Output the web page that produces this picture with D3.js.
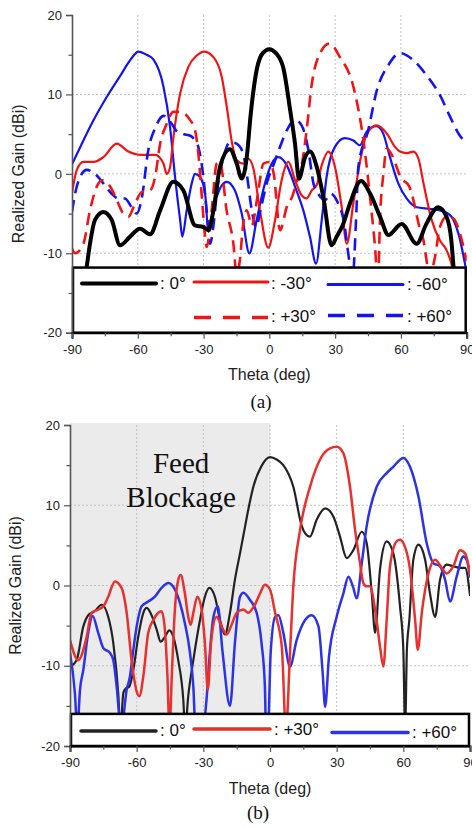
<!DOCTYPE html>
<html>
<head>
<meta charset="utf-8">
<script src="https://cdn.jsdelivr.net/npm/d3@7"></script>
<style>
  html, body { margin: 0; padding: 0; background: #fff; }
  svg { display: block; }
</style>
</head>
<body>
<script>
// ---------------- DATA ----------------
const thetaTicks = [-90, -60, -30, 0, 30, 60, 90];
const thetaMinorTicks = [-75, -45, -15, 15, 45, 75];
const gainTicks = [-20, -10, 0, 10, 20];
const gainMinorTicks = [-15, -5, 5, 15];
const gridTheta = [-60, -30, 0, 30, 60];
const gridGain = [-10, 0, 10];

// Panel (a)
const a0Theta = [-90, -85.5, -83.3, -81.8, -79.5, -75.7, -71.9, -68.1, -63.5, -59, -54.4, -49.8, -43.8, -39.2, -33.9, -30.1, -27.8, -25.5, -22.5, -18, -14.9, -12.6, -10.3, -8.5, -5.7, -3, 0, 3, 6.4, 9.5, 11.7, 13.5, 16.3, 18.5, 21.6, 24.6, 28.4, 30.7, 33.7, 36.8, 41.8, 46, 50.5, 54.3, 60.3, 67.2, 71.6, 77, 80.8, 83, 84, 85.5, 90];
const a0Gain = [-25, -16, -11.7, -8.8, -5.8, -4.8, -5.8, -9.0, -7.9, -6.9, -7.6, -4.6, -1.0, -2.1, -6.5, -6.7, -7.1, -4.6, 0.9, 3.1, 1.3, -0.6, 2.1, 7.5, 13.2, 15.2, 15.7, 15.2, 13.3, 8.0, 3.8, -0.6, 2.1, 2.8, 0.9, -2.9, -9.0, -7.9, -6.3, -3.7, -0.9, -2.5, -5.4, -7.7, -6.3, -8.8, -6.3, -4.2, -5.4, -8.4, -11.7, -16, -25];

const aM30Theta = [-90, -87.8, -84.8, -80.2, -75.7, -69.6, -64.3, -59, -52.1, -48.3, -46.8, -45.3, -43.8, -40.7, -36.9, -33.1, -29.8, -25.5, -21.7, -19.4, -17.1, -14.9, -11.9, -9.6, -7.3, -4.3, -0.5, 2.6, 5.6, 8.7, 11.7, 14.7, 17, 19.3, 21.6, 23.9, 26.9, 29.9, 33, 35.3, 38.3, 41.3, 44.4, 48.9, 53.5, 57.3, 59.6, 62.6, 65.7, 68, 70.3, 74, 77.8, 80.8, 83, 85, 88, 90];
const aM30Gain = [-2.4, 0.5, 1.5, 1.5, 2.1, 3.8, 2.8, 2.4, 2.4, 1.3, 0, 0.8, 4.5, 10.1, 13.5, 14.9, 15.4, 14.7, 12.2, 8.4, 4.0, 1.7, 1.3, 1.9, 0.7, -4.6, -9.3, -5.8, -0.8, 1.5, -0.8, -2.7, -3.1, -2.1, -1.4, 1.1, 2.8, 0.9, -4.2, -8.8, -3.7, 1.5, 5.0, 6.1, 5.1, 3.4, 2.8, 2.6, 2.8, 1.9, -1.2, -5.8, -8.4, -9.6, -11.3, -14, -20, -22];

const aM60Theta = [-90, -86, -81.8, -74.1, -68.1, -63, -59.7, -56, -52.9, -48.3, -45.3, -43, -40.7, -39.7, -37.7, -35.4, -33.9, -31.6, -29.3, -27.8, -26, -24, -19.5, -15.7, -12.6, -9.1, -5.8, -2, 1.1, 4.1, 7.9, 11.7, 15.5, 18.5, 21.3, 23.9, 26.1, 29.9, 34.5, 38.3, 41.3, 44.4, 48.9, 51.9, 55, 58.8, 62.6, 67.2, 73.2, 77.8, 82.4, 86.2, 89.2, 90];
const aM60Gain = [1.2, 3.5, 5.9, 9.7, 12.3, 14.5, 15.4, 15.0, 14.4, 11.0, 5.9, -0.4, -5.8, -7.9, -4.6, -1.2, 0, -0.4, -2.5, -7.3, -5, -2.9, -1.0, -2.1, -5.0, -10.0, -5.8, -1.2, 1.3, 2.1, 1.1, -1.6, -4.6, -7.9, -11.3, -5.8, -0.4, 3.4, 4.5, 4.2, 3.6, 5.3, 6.0, 5.1, 2.1, -1.2, -3.1, -4.2, -4.4, -4.6, -5.2, -7.5, -11.3, -12.5];

const aP30Theta = [-90, -88.6, -84.8, -81.8, -78.7, -76.4, -72.6, -69.6, -66.6, -64.3, -61.2, -58.2, -54.4, -52.1, -49.8, -46.8, -43.8, -40.7, -36.2, -33.9, -32.4, -30.9, -29.3, -28.6, -26.3, -24, -22.5, -19.5, -16.4, -15, -13.5, -12, -10.3, -8, -5.5, -2.7, 0, 2, 4.9, 7.9, 10.5, 13, 15, 17, 19.3, 22, 27.4, 32.2, 38.3, 42.9, 46.7, 48.2, 49.5, 50.5, 52, 53.5, 56, 60, 63.8, 65.7, 68.4, 70.3, 71.7, 73, 75.5, 77.8, 80.8, 83.9, 86.9, 89.2, 90];
const aP30Gain = [-9.4, -10, -8.8, -4.6, -1.6, -0.8, -1.6, -3.3, -5.0, -5.4, -3.7, -2.3, -2.1, -0.4, 3.8, 6.3, 7.8, 7.8, 6.8, 5.5, 2.6, -2.5, -7.9, -9.2, -4.6, 1.3, 1.5, -4.6, -8.8, -12.5, -11, -6.5, -4.6, -6.5, -3, 1.3, 1.5, 0, -7.1, -4.2, -2.8, -0.5, 1.5, 5.5, 11.2, 14.5, 16.4, 14.7, 11.0, 4.2, -5, -9.2, -14, -5.4, 0, 3.2, 2.3, -0.5, -1.6, -3.3, -6.7, -8.4, -10.9, -13, -10.5, -6.7, -5.4, -5.6, -7.5, -10, -11];

const aP60Theta = [-90, -88.6, -86.3, -83.3, -79.5, -75.7, -71.9, -68.9, -65.9, -62.8, -60.5, -58.2, -55.2, -52, -48.3, -45, -42, -39, -36, -33.9, -32.4, -30.1, -28.6, -27, -25.5, -24, -21, -17.9, -15, -12, -10.3, -8, -6, -4, -1, 2, 5, 8, 11.7, 14.7, 17.8, 20.1, 22.5, 25.4, 28, 31, 34, 36.5, 38, 39.5, 40.6, 45.1, 49, 54.3, 59.6, 65.7, 71.7, 77.8, 82.4, 86.2, 90];
const aP60Gain = [-4.8, -2.5, -0.4, 0.5, 0, -1.2, -2.5, -3.1, -3.1, -4.2, -5, -3.1, 3.0, 5.8, 7.3, 6.5, 5.3, 5.0, 4.8, 4.2, 3.4, -0.4, -4.6, -8.8, -6.5, -2.5, 2.0, 4.0, 3.8, 2.6, 0, -4.6, -6.7, -4.5, -1, 1.2, 3.5, 5.5, 6.8, 6.1, 3.0, -1.2, -2.6, -3.3, -2.5, -3.5, -6, -11, -13, -6, 0.9, 5.5, 10.5, 13.7, 15.2, 14.3, 12.4, 9.9, 7.2, 5.1, 3.8];

// Panel (b)
const b0Theta = [-90, -87, -84, -81.8, -78.8, -75.8, -72.8, -70.5, -68.3, -67.3, -66, -64.8, -63.3, -61.5, -59.3, -57, -55.5, -53.3, -51, -49.2, -47.3, -45.3, -43.5, -41.3, -39, -38.2, -36.8, -34.5, -31.5, -29.3, -27.3, -24.8, -22.5, -20.3, -18, -15.8, -13.5, -12, -9, -7.5, -4, 0, 3, 6, 10.5, 14.3, 15.8, 18, 21, 24.8, 28.5, 31.5, 34.5, 37.5, 41.3, 43.5, 45.8, 47.3, 49.5, 52.5, 55.5, 58.5, 60, 60.8, 61.6, 62.7, 64.5, 66.8, 69.8, 72, 74.3, 76.5, 79.5, 82.5, 85.5, 87.8, 90];
const b0Gain = [-10.1, -9.3, -5.1, -3.7, -3.2, -2.4, -3.9, -7.2, -13.4, -18, -13.4, -12.8, -12.6, -10.5, -6.4, -3.4, -2.8, -3.7, -5.5, -7.0, -6.4, -5.6, -6.4, -9.3, -14.3, -18, -13.8, -9.3, -4.3, -1.4, -0.3, -1.4, -4.3, -6.1, -3.4, 0.7, 4.0, 6.2, 10.5, 12.3, 14.8, 16.0, 15.7, 15.0, 12.3, 7.4, 6.5, 6.1, 8.2, 9.6, 8.6, 6.1, 3.4, 4.4, 6.7, 5.3, -1, -5.9, 2, 5.5, 4.0, -2.6, -8, -18, -8, -4.3, 3.2, 5.1, 3.2, -1, -3.9, 0.7, 2.6, 2.4, 2.2, 2.2, -1.2];

const bP30Theta = [-90, -86.3, -82.5, -80.3, -77.3, -75, -72.8, -69.8, -66.8, -64.5, -62.3, -60, -58.8, -57, -54.8, -52.5, -50.3, -48.8, -47.3, -46.2, -45.2, -44.2, -42.8, -41.3, -40.2, -38.3, -36.8, -35.7, -34.5, -32.7, -30.8, -29.2, -28, -26.5, -24, -21.8, -19.5, -17.3, -15, -12, -9.8, -6.8, -4.5, -2.3, 0, 2.3, 5.3, 7.2, 9, 10.5, 13.5, 18, 23.3, 27, 30, 33, 36, 38.3, 40.5, 42, 43.5, 45, 47.3, 49.5, 51, 52.5, 54, 57, 58.5, 60, 63, 65.3, 66.5, 68.3, 71.3, 74.3, 77.3, 79.5, 82.5, 85.5, 87.8, 90];
const bP30Gain = [-6.8, -9.3, -6.4, -3.4, -3.0, -2.6, -1.4, 0.5, -0.3, -3.4, -9.3, -13.2, -13.8, -11.3, -5.9, -4.3, -3.4, -3.2, -5.5, -11, -18, -11.3, -3, 0.7, 1.3, -1, -3.9, -4.9, -3.4, -1.4, -3, -7.6, -13, -7, -3.9, -5.1, -6.1, -4.9, -3.4, -3.0, -3.4, -2.4, -1, 0.1, -0.5, -3.4, -7.6, -18, -8.4, -0.1, 6.9, 12.3, 16.1, 17.1, 17.3, 16.5, 12.3, 6.9, 2.8, 0.3, -0.1, -0.1, -3, -7.6, -10.1, -4.3, 2.4, 5.5, 5.7, 5.3, 2, -4.3, -8.0, -3.4, 1.5, 3.2, 2.2, 1.5, 2.4, 4.4, 4.0, 1.5];

const bP60Theta = [-90, -87.8, -86.7, -85.5, -84, -81.8, -79.8, -77.3, -75, -72, -70.5, -69, -67, -64.5, -63, -61.5, -60, -57.8, -54.8, -51.8, -48.8, -45.8, -42.8, -40.5, -38.3, -36, -34.5, -33.5, -30.5, -28.5, -27.5, -25.5, -23.5, -21.3, -18, -15.8, -13.5, -12, -9, -6, -3.8, -2.3, -1.8, -0.9, 0.3, 2.3, 3.8, 6, 9, 12, 15.8, 18.8, 21.8, 23.7, 24.8, 26.5, 30, 33, 35.3, 37.5, 39, 41.3, 43.5, 48, 52.5, 55.5, 60, 63, 66.8, 70.5, 73.5, 76.5, 78.8, 81, 84, 87, 88.5, 90];
const bP60Gain = [-8.4, -13.4, -18, -13, -10.5, -5.9, -3.8, -5.9, -7.8, -8.4, -9.3, -12.6, -18, -13, -11.3, -8.0, -5.1, -2.6, -2.0, -1.4, -0.3, 0.3, -0.5, -2.2, -4.7, -8.4, -12.6, -18, -18, -14, -10, -4, -2.6, -8.4, -15, -7.2, -1.4, -0.9, -1.8, -3.4, -7.2, -12.6, -18, -18, -8.4, -3.9, -3.7, -5.9, -10.1, -6.8, -4.3, -3.7, -5.1, -10.9, -15.1, -9, -3.9, -1, 1.1, -0.3, -1.6, 2.8, 7.4, 12.3, 14.0, 14.8, 15.9, 14.8, 11.1, 5.3, 2.8, 2.4, 0.7, -2.0, 1.1, 3.6, 3.2, 1.1];

const legendLabelsA = [": 0°", ": -30°", ": -60°", ": +30°", ": +60°"];
const legendLabelsB = [": 0°", ": +30°", ": +60°"];
const shadeRange = [-90, 0];
const shadeLabel = ["Feed", "Blockage"];

// ---------------- DRAW ----------------
const W = 472, H = 827;
const svg = d3.select("body").append("svg").attr("width", W).attr("height", H);
const SANS = "'Liberation Sans', Arial, Helvetica, sans-serif";
const SERIF = "'Liberation Serif', 'Times New Roman', serif";

function zip(t, g) { return t.map((d, i) => ({ t: d, g: g[i] })); }

function drawPanel(o) {
  const x = d3.scaleLinear().domain([-90, 90]).range([o.x0, o.x1]);
  const y = d3.scaleLinear().domain([-20, 20]).range([o.y0, o.y1]);
  const g = svg.append("g");

  if (o.shade) {
    g.append("rect")
      .attr("x", x(shadeRange[0])).attr("y", y(20) - 2)
      .attr("width", x(shadeRange[1]) - x(shadeRange[0]))
      .attr("height", y(-20) - y(20) + 2)
      .attr("fill", "#ebebeb");
  }

  // grid
  g.selectAll(".gx").data(gridTheta).join("line")
    .attr("x1", d => x(d)).attr("x2", d => x(d))
    .attr("y1", y(20)).attr("y2", y(-20))
    .attr("stroke", "#c4c4c4").attr("stroke-width", 1).attr("stroke-dasharray", "2,2");
  g.selectAll(".gy").data(gridGain).join("line")
    .attr("x1", x(-90)).attr("x2", x(90))
    .attr("y1", d => y(d)).attr("y2", d => y(d))
    .attr("stroke", "#c4c4c4").attr("stroke-width", 1).attr("stroke-dasharray", "2,2");

  if (o.shade) {
    g.append("text").attr("x", x(-40)).attr("y", o.shadeY[0])
      .attr("text-anchor", "middle").attr("font-family", SERIF).attr("font-size", 29)
      .attr("fill", "#111").text(shadeLabel[0]);
    g.append("text").attr("x", x(-40)).attr("y", o.shadeY[1])
      .attr("text-anchor", "middle").attr("font-family", SERIF).attr("font-size", 29)
      .attr("fill", "#111").text(shadeLabel[1]);
  }

  // clip
  const cid = "clip" + o.id;
  svg.append("clipPath").attr("id", cid).append("rect")
    .attr("x", x(-90)).attr("y", y(20) - 3)
    .attr("width", x(90) - x(-90)).attr("height", y(-20) - y(20) + 3);

  const line = d3.line().x(d => x(d.t)).y(d => y(d.g)).curve(d3.curveMonotoneX);
  const lg = g.append("g").attr("clip-path", `url(#${cid})`);
  o.series.forEach(s => {
    lg.append("path").datum(zip(s.t, s.g))
      .attr("d", line).attr("fill", "none")
      .attr("stroke", s.color).attr("stroke-width", s.w)
      .attr("stroke-dasharray", s.dash || null)
      .attr("stroke-linejoin", "round").attr("stroke-linecap", s.dash ? "butt" : "round");
  });

  // legend box
  g.append("rect")
    .attr("x", x(-90) + 1).attr("y", y(o.legendTop))
    .attr("width", x(90) - x(-90) - 2).attr("height", y(-20) - y(o.legendTop))
    .attr("fill", "#fff").attr("stroke", "#000").attr("stroke-width", 2.5);

  o.legend.forEach(it => {
    g.append("line").attr("x1", it.lx1).attr("x2", it.lx2)
      .attr("y1", it.ly).attr("y2", it.ly)
      .attr("stroke", it.color).attr("stroke-width", it.w)
      .attr("stroke-dasharray", it.dash || null)
      .attr("stroke-linecap", it.dash ? "butt" : "round");
    g.append("text").attr("x", it.tx).attr("y", it.ty)
      .attr("font-family", SANS).attr("font-size", 17).attr("fill", "#111")
      .text(it.label);
  });

  // axes
  const axL = g.append("g").attr("transform", `translate(${x(-90)},0)`)
    .call(d3.axisLeft(y).tickValues(gainTicks).tickSize(6).tickPadding(4).tickFormat(d => String(d)));
  g.append("g").attr("transform", `translate(${x(-90)},0)`)
    .call(d3.axisLeft(y).tickValues(gainMinorTicks).tickSize(3.5).tickFormat(""))
    .call(s => s.select(".domain").remove());
  const axB = g.append("g").attr("transform", `translate(0,${y(-20)})`)
    .call(d3.axisBottom(x).tickValues(thetaTicks).tickSize(6).tickPadding(6).tickFormat(d => String(d)));
  g.append("g").attr("transform", `translate(0,${y(-20)})`)
    .call(d3.axisBottom(x).tickValues(thetaMinorTicks).tickSize(3.5).tickFormat(""))
    .call(s => s.select(".domain").remove());
  g.selectAll(".domain").attr("stroke", "#555").attr("stroke-width", 1.6);
  g.selectAll(".tick line").attr("stroke", "#555").attr("stroke-width", 1.2);
  g.selectAll(".tick text").attr("font-family", SANS).attr("font-size", 13).attr("fill", "#222");
  axB.select(".domain").attr("stroke", "#000").attr("stroke-width", 2);

  // titles
  g.append("text")
    .attr("transform", `translate(${o.ytX},${(y(20) + y(-20)) / 2}) rotate(-90)`)
    .attr("text-anchor", "middle").attr("dy", "0.35em")
    .attr("font-family", SANS).attr("font-size", 16).attr("fill", "#222")
    .text("Realized Gain (dBi)");
  g.append("text").attr("x", x(0)).attr("y", o.xtY)
    .attr("text-anchor", "middle")
    .attr("font-family", SANS).attr("font-size", 16).attr("fill", "#222")
    .text("Theta (deg)");
  g.append("text").attr("x", o.capX).attr("y", o.capY)
    .attr("text-anchor", "middle")
    .attr("font-family", SERIF).attr("font-size", 19).attr("fill", "#111")
    .text(o.caption);
}

const RED = "#f21414", BLUE = "#1414f0";
drawPanel({
  id: "a", x0: 72, x1: 466.7, y0: 332.7, y1: 15,
  legendTop: -11.8, ytX: 18, xtY: 380, capX: 261, capY: 408, caption: "(a)",
  series: [
    { t: aM60Theta, g: aM60Gain, color: BLUE, w: 2.2 },
    { t: aM30Theta, g: aM30Gain, color: RED, w: 2.2 },
    { t: aP60Theta, g: aP60Gain, color: BLUE, w: 2.6, dash: "12,7" },
    { t: aP30Theta, g: aP30Gain, color: RED, w: 2.6, dash: "12,7" },
    { t: a0Theta, g: a0Gain, color: "#000", w: 4 }
  ],
  legend: [
    { lx1: 82, lx2: 156, ly: 283.5, color: "#000", w: 4, tx: 160, ty: 289, label: legendLabelsA[0] },
    { lx1: 194, lx2: 268, ly: 282, color: RED, w: 3, tx: 271, ty: 289, label: legendLabelsA[1] },
    { lx1: 328, lx2: 403, ly: 284.5, color: BLUE, w: 3, tx: 407, ty: 290, label: legendLabelsA[2] },
    { lx1: 194, lx2: 268, ly: 317.5, color: RED, w: 3.5, dash: "17,12", tx: 271, ty: 322, label: legendLabelsA[3] },
    { lx1: 328, lx2: 403, ly: 315.5, color: BLUE, w: 3.5, dash: "17,12", tx: 407, ty: 322, label: legendLabelsA[4] }
  ]
});

const RED_B = "#e8302e", BLUE_B = "#2c33e6";
drawPanel({
  id: "b", x0: 70, x1: 470, y0: 746, y1: 425,
  legendTop: -16, ytX: 15, xtY: 794, capX: 258, capY: 819, caption: "(b)",
  shade: true, shadeY: [472.5, 507],
  series: [
    { t: b0Theta, g: b0Gain, color: "#222", w: 2.2 },
    { t: bP60Theta, g: bP60Gain, color: BLUE_B, w: 2.5 },
    { t: bP30Theta, g: bP30Gain, color: RED_B, w: 2.5 }
  ],
  legend: [
    { lx1: 81, lx2: 156, ly: 731, color: "#222", w: 3.5, tx: 160, ty: 736, label: legendLabelsB[0] },
    { lx1: 194, lx2: 270, ly: 729, color: RED_B, w: 3.5, tx: 274, ty: 735, label: legendLabelsB[1] },
    { lx1: 332, lx2: 408, ly: 732.5, color: BLUE_B, w: 3.5, tx: 412, ty: 738, label: legendLabelsB[2] }
  ]
});
</script>
</body>
</html>
